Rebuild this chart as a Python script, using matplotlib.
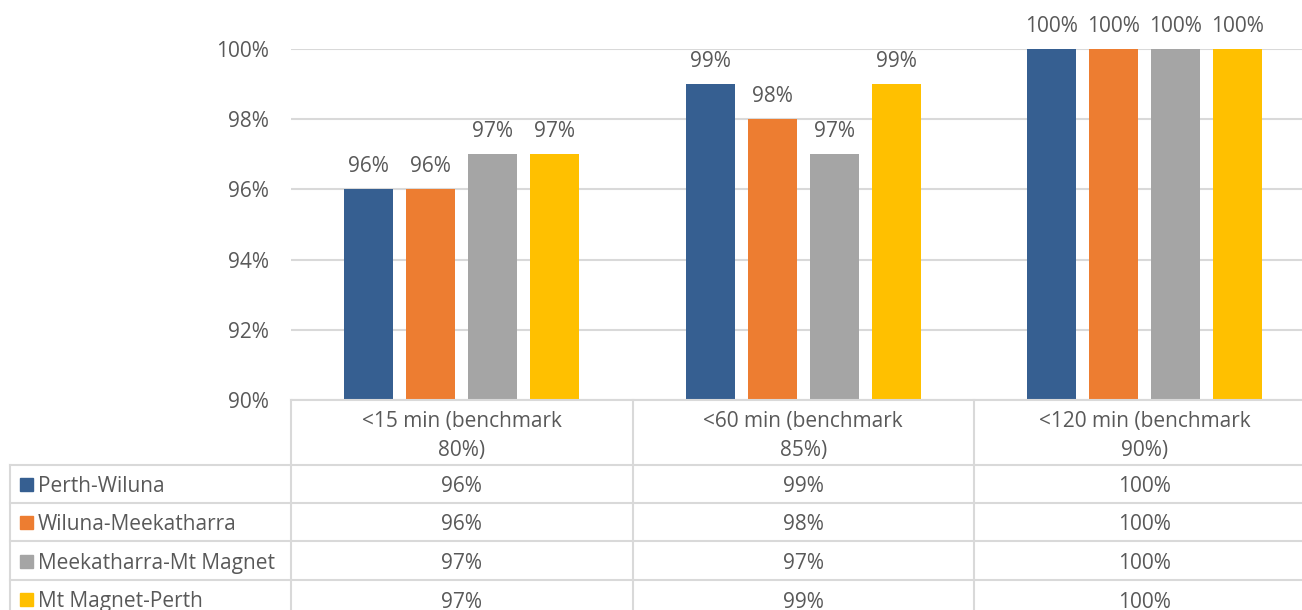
import matplotlib
matplotlib.use("Agg")
import matplotlib.pyplot as plt
from matplotlib.lines import Line2D
from matplotlib.patches import Rectangle
from matplotlib.transforms import blended_transform_factory

categories = ["<15 min (benchmark\n80%)", "<60 min (benchmark\n85%)", "<120 min (benchmark\n90%)"]
series_names = ["Perth-Wiluna", "Wiluna-Meekatharra", "Meekatharra-Mt Magnet", "Mt Magnet-Perth"]
perth_wiluna = [96, 99, 100]
wiluna_meekatharra = [96, 98, 100]
meekatharra_mtmagnet = [97, 97, 100]
mtmagnet_perth = [97, 99, 100]
yticks = [90, 92, 94, 96, 98, 100]

series = [perth_wiluna, wiluna_meekatharra, meekatharra_mtmagnet, mtmagnet_perth]
colors = ["#365F91", "#ED7D31", "#A5A5A5", "#FFC000"]
TXT = "#595959"
GRID = "#D9D9D9"
FONT = "Open Sans"
FS = 15

W, H = 1302, 610
fig = plt.figure(figsize=(W / 100, H / 100), dpi=100)
def fx(p): return p / W
def fy(p): return 1 - p / H

ax_left, ax_right, ax_top, ax_bot = 290.75, 1315.75, 49, 400
ax = fig.add_axes([fx(ax_left), fy(ax_bot), (ax_right - ax_left) / W, (ax_bot - ax_top) / H])

bw = 49 / 341.5
pitch = 62 / 341.5
for i, (vals, c) in enumerate(zip(series, colors)):
    xs = [j + (i - 1.5) * pitch for j in range(len(categories))]
    ax.bar(xs, [v - 90 for v in vals], bottom=90, width=bw, color=c, zorder=3)
    for x, v in zip(xs, vals):
        ax.annotate(f"{v}%", (x, v), xytext=(0, 12.5), textcoords="offset points",
                    ha="center", va="baseline", fontsize=FS, color=TXT,
                    family=FONT, annotation_clip=False)

ax.set_xlim(-0.5, len(categories) - 0.5)
ax.set_ylim(90, 100)
ax.set_yticks(yticks)
ax.set_yticklabels([f"{t}%" for t in yticks], fontsize=FS, color=TXT, family=FONT)
ax.tick_params(axis="y", length=0, pad=16)
ax.set_xticks([])
for s in ax.spines.values():
    s.set_visible(False)
ax.yaxis.grid(True, color=GRID, linewidth=1.5, zorder=0)
ax.set_axisbelow(True)

# Data table
row_lines = [465, 503, 541, 580, 618]
col_edges_px = [290.75, 632.5, 974, 1315.75]
lw = 1.5
def hline(y, x0, x1):
    fig.add_artist(Line2D([fx(x0), fx(x1)], [fy(y), fy(y)], color=GRID, lw=lw))
def vline(x, y0, y1):
    fig.add_artist(Line2D([fx(x), fx(x)], [fy(y0), fy(y1)], color=GRID, lw=lw))

hline(400, 290.75, 1315.75)
for y in row_lines:
    hline(y, 10, 1315.75)
for x in col_edges_px:
    vline(x, 400, 618)
vline(10, 465, 618)

tr = blended_transform_factory(ax.transData, fig.transFigure)
for j, cat in enumerate(categories):
    fig.text(j, fy(436), cat, transform=tr, ha="center", va="center", fontsize=FS,
             color=TXT, family=FONT, linespacing=1.45)

for i, (name, vals, c) in enumerate(zip(series_names, series, colors)):
    yc = (row_lines[i] + row_lines[i + 1]) / 2
    fig.add_artist(Rectangle((fx(20), fy(yc + 7)), 13 / W, 13 / H, color=c,
                             transform=fig.transFigure))
    fig.text(fx(38), fy(yc + 3), name, ha="left", va="center", fontsize=FS, color=TXT, family=FONT)
    for j, v in enumerate(vals):
        fig.text(j, fy(yc + 3), f"{v}%", transform=tr, ha="center", va="center",
                 fontsize=FS, color=TXT, family=FONT)

fig.savefig("out.png", dpi=100)
